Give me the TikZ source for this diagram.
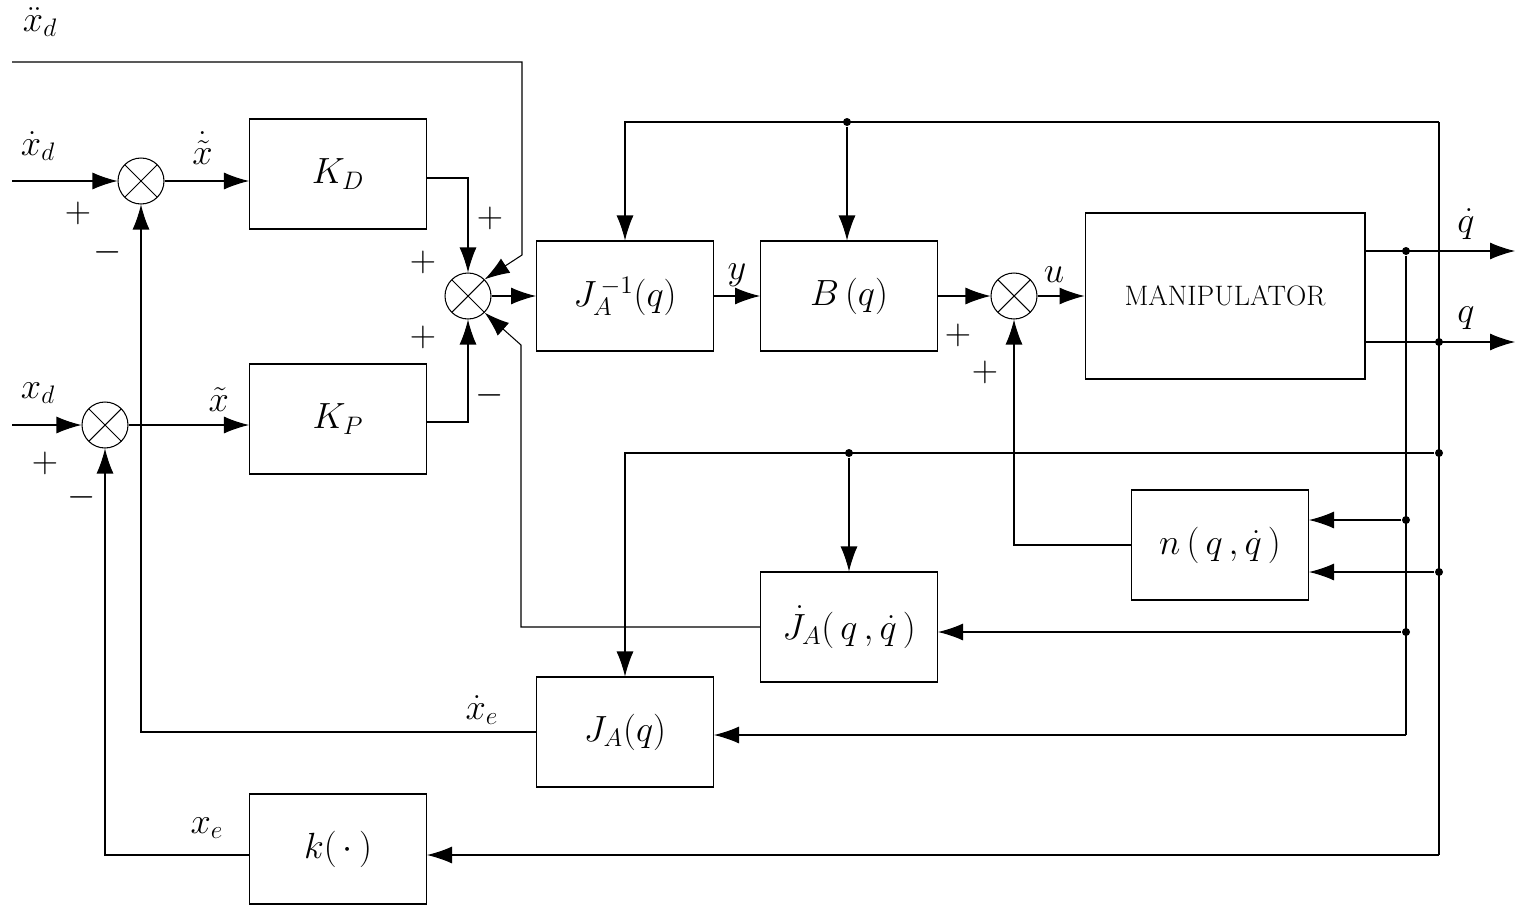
\documentclass[tikz,border=0pt]{standalone}
\usetikzlibrary{arrows.meta, positioning, calc}
\tikzset{
  block/.style = {
    draw,
    rectangle,
    align=center,
    minimum width=3.54cm,
    minimum height=2.2cm,
  },
  sum/.style = {
    draw,
    circle,
    minimum size=0.92cm,
    inner sep=0pt,
    path picture={
      \draw (path picture bounding box.south west) -- (path picture bounding box.north east)
            (path picture bounding box.north west) -- (path picture bounding box.south east);
    },
  },
  goes/.style = {
    -{Latex[length=5mm, width=3.4mm]},
  },
  junction/.style = {
    circle, fill, inner sep=0pt, minimum size=1.6mm,
  },
  sign/.style = {
    font=\fontsize{20}{24}\selectfont,
  },
}

\begin{document}
\begin{tikzpicture}[
  x=0.02cm, y=-0.02cm,
  every node/.append style={font=\fontsize{20}{24}\selectfont},
  line width=0.6pt,
]
\useasboundingbox (0,0) rectangle (1525,916);

% blocks
\node(KD)[block] at (338,174) {$K_D$};
\node(KP)[block] at (338,419) {$K_P$};
\node(Jinv)[block] at (625,296) {$J_A^{\,-1}(q)$};
\node(B)[block] at (849,296) {$B\,(q)$};
\node(Man)[block, minimum width=5.6cm, minimum height=3.32cm] at (1225,296) {\fontsize{16}{18}\selectfont MANIPULATOR};
\node(N)[block] at (1220,545) {$n\,(\,q\,,\dot q\,)$};
\node(Jdot)[block] at (849,627) {$\dot J_A(\,q\,,\dot q\,)$};
\node(JA)[block] at (625,732) {$J_A(q)$};
\node(K)[block] at (338,849) {$k(\,\cdot\,)$};

% summing points
\node(S1)[sum] at (141,181) {};
\node(S2)[sum] at (105,425) {};
\node(S3)[sum] at (468,296) {};
\node(S4)[sum] at (1014,296) {};

% bus coordinates
\coordinate(Qd) at (1406,251);
\coordinate(Q) at (1439,342);
\coordinate(QdOut) at (1515,251);
\coordinate(QOut) at (1515,342);
\coordinate(Top) at (1439,122);
\node(D1)[junction] at (847,122) {};
\node(D2)[junction] at (1406,251) {};
\node(D3)[junction] at (1439,342) {};
\node(D4)[junction] at (1439,453) {};
\node(D5)[junction] at (849,453) {};
\node(D6)[junction] at (1406,520) {};
\node(D7)[junction] at (1439,572) {};
\node(D8)[junction] at (1406,632) {};

% inputs
\coordinate(XddIn) at (12,62);
\coordinate(XdIn) at (12,181);
\coordinate(XIn) at (12,425);
\draw[goes] (XddIn) -- (522,62) -- (522,255) -- (S3.45);
\draw[goes] (XdIn) -- (S1);
\draw[goes] (XIn) -- (S2);
\node at (40,22) {$\ddot x_d$};
\node at (38,146) {$\dot x_d$};
\node at (38,393) {$x_d$};

% forward path
\draw[goes] (S1) -- node[above, pos=.45, yshift=6pt] {$\dot{\tilde x}$} (KD.west |- S1);
\draw[goes] (S2) -- node[above, pos=.75, yshift=4pt] {$\tilde x$} (KP.west |- S2);
\draw[goes] (KD.east |- 0,178) -| (S3.north);
\draw[goes] (KP.east |- 0,422) -| (S3.south);
\draw[goes] (S3) -- (Jinv);
\draw[goes] (Jinv) -- node[above, yshift=2pt] {$y$} (B);
\draw[goes] (B) -- (S4);
\draw[goes] (S4) -- node[above, yshift=4pt, pos=.35] {$u$} (Man);
\draw[goes] (Man.east |- Qd) -- (QdOut);
\draw[goes] (Man.east |- Q) -- (QOut);
\node at (1466,224) {$\dot q$};
\node at (1466,318) {$q$};

% feedback buses
\draw (D2) -- (1406,735);
\draw (Top) -- (1439,855);
\draw[goes] (Top) -| (Jinv.north);
\draw[goes] (D1) -- (D1 |- B.north);
\draw[goes] (D4) -- (625,453) -- (JA.north);
\draw[goes] (D5) -- (Jdot.north);
\draw[goes] (D6) -- (N.east |- D6);
\draw[goes] (D7) -- (N.east |- D7);
\draw[goes] (D8) -- (Jdot.east |- D8);
\draw[goes] (1406,735) -- (JA.east |- 0,735);
\draw[goes] (1439,855) -- (K.east |- 0,855);

% feedback outputs
\draw[goes] (N.west) -| (S4.south);
\draw[goes] (Jdot.west) -- (521,627) -- (521,345) -- (S3.-45);
\draw[goes] (JA.west) -- (S1.south |- JA.west) -- (S1.south);
\node at (482,710) {$\dot x_e$};
\draw[goes] (K.west |- 0,855) -- (105,855) -- (S2.south);
\node at (207,828) {$x_e$};

% signs
\node[sign] at (78,213) {$+$};
\node[sign] at (108,252) {$-$};
\node[sign] at (45,463) {$+$};
\node[sign] at (82,497) {$-$};
\node[sign] at (490,218) {$+$};
\node[sign] at (423,262) {$+$};
\node[sign] at (423,337) {$+$};
\node[sign] at (490,395) {$-$};
\node[sign] at (958,335) {$+$};
\node[sign] at (985,372) {$+$};
\end{tikzpicture}
\end{document}
